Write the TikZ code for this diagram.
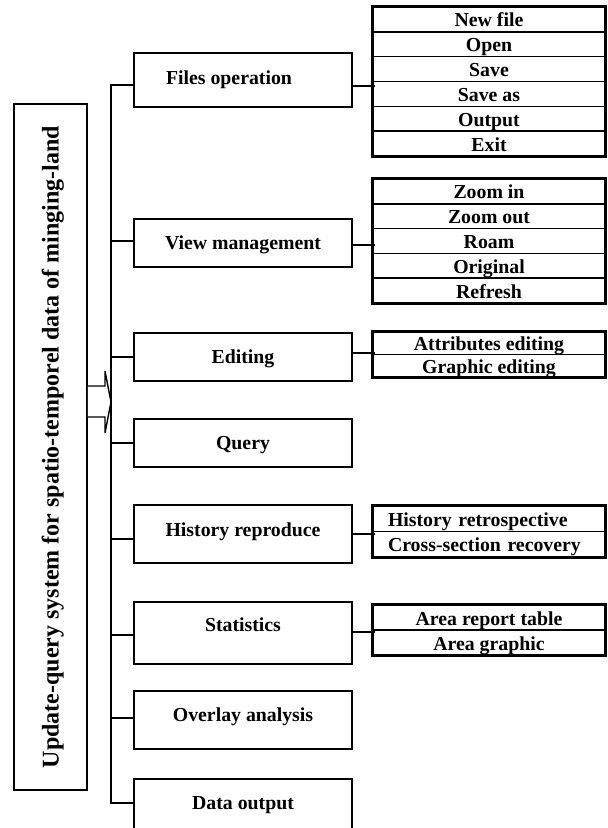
\documentclass[tikz,border=0pt]{standalone}
\usepackage{fontspec}
\setmainfont{Liberation Serif}
\begin{document}
\begin{tikzpicture}[x=1pt,y=-1pt,
  mainbox/.style={draw, line width=1.8pt, inner sep=0pt, minimum width=218pt},
  maintext/.style={inner sep=0pt, font=\fontsize{19.8pt}{22pt}\selectfont\bfseries, text height=13.1pt, text depth=0pt},
  subrow/.style={draw, line width=1.5pt, inner sep=0pt, minimum width=232pt, font=\fontsize{19.8pt}{22pt}\selectfont\bfseries, text height=15pt, text depth=0pt},
  subouter/.style={draw, line width=2pt},
  conn/.style={draw, line width=1.4pt},
  leftbox/.style={draw, line width=1.8pt, inner sep=0pt, rotate=90, minimum width=686pt, minimum height=73pt, font=\fontsize{24pt}{26pt}\selectfont\bfseries, text height=16pt, text depth=0pt}
]
\useasboundingbox (0,0) rectangle (608,828);

% left title box
\node[leftbox] (title) at (50.5,447) {Update-query system for spatio-temporel data of minging-land};

% main boxes
\node[mainbox, minimum height=54pt] (files) at (243,80) {};
\node[mainbox, minimum height=48pt] (view) at (243,243) {};
\node[mainbox, minimum height=48pt] (edit) at (243,357) {};
\node[mainbox, minimum height=48pt] (query) at (243,443) {};
\node[mainbox, minimum height=58pt] (hist) at (243,534) {};
\node[mainbox, minimum height=62pt] (stats) at (243,633) {};
\node[mainbox, minimum height=58pt] (overlay) at (243,720) {};
\node[mainbox, minimum height=52pt] (dataout) at (243,805) {};

\node[maintext] (filesT) at (229,78) {Files operation};
\node[maintext] (viewT) at (243,243) {View management};
\node[maintext] (editT) at (243,357) {Editing};
\node[maintext] (queryT) at (243,443) {Query};
\node[maintext] (histT) at (243,529.5) {History reproduce};
\node[maintext] (statsT) at (243,624.5) {Statistics};
\node[maintext] (overlayT) at (243,715) {Overlay analysis};
\node[maintext] (dataoutT) at (243,803) {Data output};

% trunk coordinates
\coordinate (t1) at (111,85);
\coordinate (t2) at (111,241);
\coordinate (t3) at (111,357);
\coordinate (t4) at (111,443);
\coordinate (t5) at (111,539);
\coordinate (t6) at (111,635);
\coordinate (t7) at (111,718);
\coordinate (t8) at (111,803);

\path[conn] (t1 -| files.west) -- (t1) -- (t8) -- (t8 -| dataout.west);
\path[conn] (t2) -- (t2 -| view.west);
\path[conn] (t3) -- (t3 -| edit.west);
\path[conn] (t4) -- (t4 -| query.west);
\path[conn] (t5) -- (t5 -| hist.west);
\path[conn] (t6) -- (t6 -| stats.west);
\path[conn] (t7) -- (t7 -| overlay.west);

% big arrow from title box to trunk
\draw[line width=1.4pt, line join=miter, fill=white]
  (title.south |- 0,386) -- (105,386) -- (105,371) -- (t1 |- 0,402) -- (105,433) -- (105,417) -- (title.south |- 0,417);

% sub lists
\foreach \t [count=\i] in {New file, Open, Save, Save as, Output, Exit}
  \node[subrow, minimum height=24.83pt] (f\i) at (489,{7+24.83*(\i-0.5)}) {\t};
\draw[subouter] (f1.north west) rectangle (f6.south east);

\foreach \t [count=\i] in {Zoom in, Zoom out, Roam, Original, Refresh}
  \node[subrow, minimum height=24.8pt] (v\i) at (489,{179+24.8*(\i-0.5)}) {\t};
\draw[subouter] (v1.north west) rectangle (v5.south east);

\foreach \t [count=\i] in {Attributes editing, Graphic editing}
  \node[subrow, minimum height=22.5pt] (e\i) at (489,{332+22.5*(\i-0.5)}) {\t};
\draw[subouter] (e1.north west) rectangle (e2.south east);

\foreach \t [count=\i] in {History retrospective, Cross-section recovery}
  \node[subrow, minimum height=25.5pt, text width=202pt, align=left] (h\i) at (489,{506+25.5*(\i-0.5)}) {\t};
\draw[subouter] (h1.north west) rectangle (h2.south east);

\foreach \t [count=\i] in {Area report table, Area graphic}
  \node[subrow, minimum height=25pt] (s\i) at (489,{605+25*(\i-0.5)}) {\t};
\draw[subouter] (s1.north west) rectangle (s2.south east);

% right connectors
\coordinate (r1) at (375,86);
\coordinate (r2) at (375,245);
\coordinate (r3) at (375,353);
\coordinate (r4) at (375,534);
\coordinate (r5) at (375,632);
\path[conn] (r1 -| files.east) -- (r1);
\path[conn] (r2 -| view.east) -- (r2);
\path[conn] (r3 -| edit.east) -- (r3);
\path[conn] (r4 -| hist.east) -- (r4);
\path[conn] (r5 -| stats.east) -- (r5);
\end{tikzpicture}
\end{document}
